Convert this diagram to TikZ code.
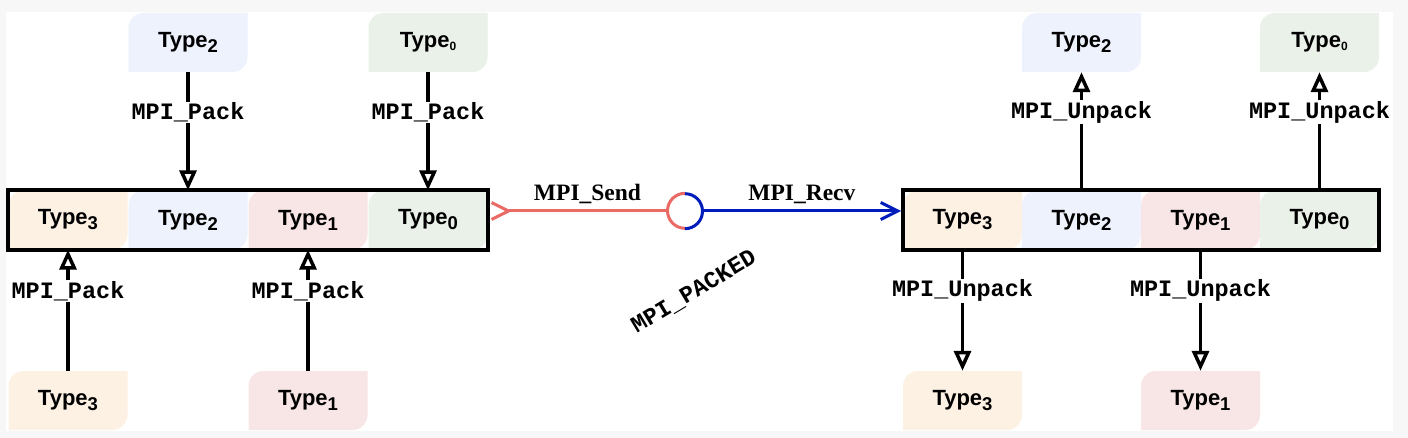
\documentclass[tikz,border=0pt]{standalone}
\usepackage{fontspec}
\usepackage{tikz}
\usetikzlibrary{arrows.meta}
\setmainfont{Liberation Serif}
\newfontfamily\typefont{Liberation Sans}
\newfontfamily\callfont{Liberation Mono}
\definecolor{pageback}{HTML}{F7F7F7}
\definecolor{fillthree}{HTML}{FDF1E4}
\definecolor{filltwo}{HTML}{EEF2FC}
\definecolor{fillone}{HTML}{F8E6E6}
\definecolor{fillzero}{HTML}{EAF1E8}
\definecolor{sendred}{HTML}{EA6B66}
\definecolor{recvblue}{HTML}{001DBC}
\newcommand{\typesub}[1]{\raisebox{-5pt}{\fontsize{18.5}{18.5}\selectfont #1}}
\newcommand{\smallsub}[1]{\raisebox{-3pt}{\fontsize{12}{12}\selectfont #1}}
\tikzset{
  typecell/.style={minimum width=119pt,minimum height=59pt,inner sep=0pt,
    font=\typefont\bfseries\fontsize{22}{26}\selectfont,
    path picture={\fill[#1] (path picture bounding box.south west)
      -- ([yshift=-15pt]path picture bounding box.north west)
      arc[start angle=180,end angle=90,radius=15pt]
      -- (path picture bounding box.north east)
      -- ([yshift=15pt]path picture bounding box.south east)
      arc[start angle=0,end angle=-90,radius=15pt] -- cycle;}},
  bufbox/.style={draw,line width=4pt,minimum height=60pt,inner sep=0pt},
  packline/.style={line width=3.5pt,-{Triangle[open,length=20pt,width=17pt]}},
  callname/.style={fill=white,inner sep=1pt,font=\callfont\bfseries\fontsize{23.5}{26}\selectfont},
  wirename/.style={anchor=base,yshift=10pt,text=black,font=\bfseries\fontsize{23.5}{26}\selectfont},
}
\begin{document}
\begin{tikzpicture}[x=1pt,y=1pt]
    \fill[pageback] (0,0) rectangle (1408,-438);
    \fill[white] (6,-12) rectangle (1393,-431);

    \node[typecell=fillthree] (sl3) at (68,-220) {Type\typesub{3}};
    \node[typecell=filltwo] (sl2) at (188,-220) {Type\typesub{2}};
    \node[typecell=fillone] (sl1) at (308,-220) {Type\typesub{1}};
    \node[typecell=fillzero] (sl0) at (428,-220) {Type\typesub{0}};
    \node[bufbox,minimum width=480pt] (sendbuf) at (248,-220) {};

    \node[typecell=filltwo] (su2) at (188,-42.5) {Type\typesub{2}};
    \node[typecell=fillzero] (su0) at (428,-42.5) {Type\smallsub{0}};
    \node[typecell=fillthree] (sd3) at (68,-400.5) {Type\typesub{3}};
    \node[typecell=fillone] (sd1) at (308,-400.5) {Type\typesub{1}};

    \draw[packline] (su2.south) -- node[callname,pos=.34] {MPI\_Pack} (sl2.north);
    \draw[packline] (su0.south) -- node[callname,pos=.34] {MPI\_Pack} (sl0.north);
    \draw[packline] (sd3.north) -- node[callname,pos=.66] {MPI\_Pack} (sl3.south);
    \draw[packline] (sd1.north) -- node[callname,pos=.66] {MPI\_Pack} (sl1.south);

    \node[typecell=fillthree] (rl3) at (962.5,-220) {Type\typesub{3}};
    \node[typecell=filltwo] (rl2) at (1081.5,-220) {Type\typesub{2}};
    \node[typecell=fillone] (rl1) at (1200.5,-220) {Type\typesub{1}};
    \node[typecell=fillzero] (rl0) at (1319.5,-220) {Type\typesub{0}};
    \node[bufbox,minimum width=476pt] (recvbuf) at (1141,-220) {};

    \node[typecell=filltwo] (ru2) at (1081.5,-42.5) {Type\typesub{2}};
    \node[typecell=fillzero] (ru0) at (1319.5,-42.5) {Type\smallsub{0}};
    \node[typecell=fillthree] (rd3) at (962.5,-400.5) {Type\typesub{3}};
    \node[typecell=fillone] (rd1) at (1200.5,-400.5) {Type\typesub{1}};

    \draw[packline] (rl2.north) -- node[callname,pos=.66] {MPI\_Unpack} (ru2.south);
    \draw[packline] (rl0.north) -- node[callname,pos=.66] {MPI\_Unpack} (ru0.south);
    \draw[packline] (rl3.south) -- node[callname,pos=.34] {MPI\_Unpack} (rd3.north);
    \draw[packline] (rl1.south) -- node[callname,pos=.34] {MPI\_Unpack} (rd1.north);

    \node[circle,minimum size=35pt,inner sep=0pt] (joint) at (685,-211) {};
    \draw[sendred,line width=3pt] (joint.north) arc[start angle=90,end angle=270,radius=17.5pt];
    \draw[recvblue,line width=3pt] (joint.south) arc[start angle=-90,end angle=90,radius=17.5pt];
    \draw[sendred,line width=3pt,{Straight Barb[reversed,length=17pt,width=17pt]}-]
      ([yshift=9pt]sendbuf.east) -- node[wirename,pos=.55] {MPI\_Send} (joint.west);
    \draw[recvblue,line width=3pt,-{Straight Barb[length=17pt,width=17pt]}]
      (joint.east) -- node[wirename] {MPI\_Recv} ([yshift=9pt]recvbuf.west);

    \node[rotate=31,font=\callfont\bfseries\fontsize{23.5}{26}\selectfont] (packed) at (694,-292) {MPI\_PACKED};
  \end{tikzpicture}
\end{document}
